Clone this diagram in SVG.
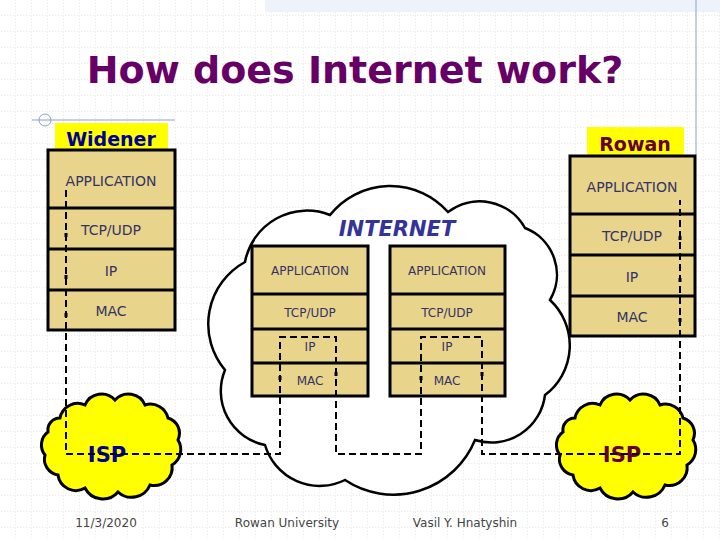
<svg xmlns="http://www.w3.org/2000/svg" width="720" height="540" viewBox="0 0 720 540">
<defs>
<pattern id="grid" width="16" height="16" patternUnits="userSpaceOnUse"><path d="M16 0V16H0" fill="none" stroke="#d4d4d4" stroke-width="1" stroke-dasharray="1,2"/></pattern>
<path id="ispshape" d="M60 418 A18 18 0 0 1 85 405 A18 18 0 0 1 115 400 A18 18 0 0 1 145 405 A18 18 0 0 1 168 418 A16 16 0 0 1 178 440 A18 18 0 0 1 172 465 A18 18 0 0 1 150 485 A20 20 0 0 1 118 492 A20 20 0 0 1 85 488 A18 18 0 0 1 58 475 A16 16 0 0 1 45 455 A16 16 0 0 1 48 432 A12 12 0 0 1 60 418 Z"/>
</defs>
<style>
.box{fill:#e8d48a;stroke:#000;stroke-width:3}
.t{font-family:"DejaVu Sans",sans-serif;fill:#333366;text-anchor:middle}
.dash{fill:none;stroke:#000;stroke-width:2;stroke-dasharray:7,4}
.cl{fill:#fff;stroke:#000;stroke-width:2.5}
.isp{fill:#ffff00;stroke:#000;stroke-width:3}
.ft{font-family:"DejaVu Sans",sans-serif;font-size:12px;fill:#444;text-anchor:middle}
</style>
<rect width="720" height="540" fill="#fff"/>
<rect width="720" height="540" fill="url(#grid)"/>
<rect x="265" y="0" width="455" height="12" fill="#eef2fa"/>
<line x1="696" y1="0" x2="696" y2="155" stroke="#8aa0d0" stroke-width="1"/>
<line x1="32" y1="120" x2="175" y2="120" stroke="#8aa0d0" stroke-width="1"/>
<circle cx="45" cy="120" r="6" fill="none" stroke="#8aa0d0"/>
<text x="355" y="83" font-family="'DejaVu Sans',sans-serif" font-weight="bold" font-size="38" fill="#660066" text-anchor="middle">How does Internet work?</text>

<g id="internet">
<path class="cl" d="M245 262 A63 63 0 0 1 330 215 A77 77 0 0 1 448 212 A52 52 0 0 1 525 228 A50 50 0 0 1 550 300 A62 62 0 0 1 545 395 A54 54 0 0 1 475 440 A88 88 0 0 1 345 480 A57 57 0 0 1 265 445 A55 55 0 0 1 225 370 A71 71 0 0 1 245 262 Z"/>
<text x="397" y="236" font-family="'DejaVu Sans',sans-serif" font-weight="bold" font-style="italic" font-size="21" fill="#333399" text-anchor="middle">INTERNET</text>
</g>

<g id="widener">
<rect x="55" y="123" width="113" height="32" fill="#ffff00"/>
<text x="111" y="146" font-family="'DejaVu Sans',sans-serif" font-weight="bold" font-size="19" fill="#000099" text-anchor="middle">Widener</text>
<rect class="box" x="48" y="150" width="127" height="180"/>
<line x1="48" y1="208" x2="175" y2="208" stroke="#000" stroke-width="3"/>
<line x1="48" y1="249" x2="175" y2="249" stroke="#000" stroke-width="3"/>
<line x1="48" y1="290" x2="175" y2="290" stroke="#000" stroke-width="3"/>
<text class="t" x="111" y="186" font-size="14">APPLICATION</text>
<text class="t" x="111" y="235" font-size="14">TCP/UDP</text>
<text class="t" x="111" y="276" font-size="14">IP</text>
<text class="t" x="111" y="316" font-size="14">MAC</text>
</g>

<g id="rowan">
<rect x="587" y="127" width="97" height="34" fill="#ffff00"/>
<text x="635" y="151" font-family="'DejaVu Sans',sans-serif" font-weight="bold" font-size="19" fill="#660033" text-anchor="middle">Rowan</text>
<rect class="box" x="570" y="156" width="125" height="180"/>
<line x1="570" y1="214" x2="695" y2="214" stroke="#000" stroke-width="3"/>
<line x1="570" y1="255" x2="695" y2="255" stroke="#000" stroke-width="3"/>
<line x1="570" y1="296" x2="695" y2="296" stroke="#000" stroke-width="3"/>
<text class="t" x="632" y="192" font-size="14">APPLICATION</text>
<text class="t" x="632" y="241" font-size="14">TCP/UDP</text>
<text class="t" x="632" y="282" font-size="14">IP</text>
<text class="t" x="632" y="322" font-size="14">MAC</text>
</g>

<g id="router1">
<rect class="box" x="252" y="246" width="116" height="150"/>
<line x1="252" y1="294" x2="368" y2="294" stroke="#000" stroke-width="3"/>
<line x1="252" y1="329" x2="368" y2="329" stroke="#000" stroke-width="3"/>
<line x1="252" y1="363" x2="368" y2="363" stroke="#000" stroke-width="3"/>
<text class="t" x="310" y="275" font-size="12">APPLICATION</text>
<text class="t" x="310" y="317" font-size="12">TCP/UDP</text>
<text class="t" x="310" y="351" font-size="12">IP</text>
<text class="t" x="310" y="385" font-size="12">MAC</text>
</g>

<g id="router2">
<rect class="box" x="390" y="246" width="115" height="150"/>
<line x1="390" y1="294" x2="505" y2="294" stroke="#000" stroke-width="3"/>
<line x1="390" y1="329" x2="505" y2="329" stroke="#000" stroke-width="3"/>
<line x1="390" y1="363" x2="505" y2="363" stroke="#000" stroke-width="3"/>
<text class="t" x="447" y="275" font-size="12">APPLICATION</text>
<text class="t" x="447" y="317" font-size="12">TCP/UDP</text>
<text class="t" x="447" y="351" font-size="12">IP</text>
<text class="t" x="447" y="385" font-size="12">MAC</text>
</g>

<g id="isp-left">
<use href="#ispshape" class="isp"/>
<text x="107" y="462" font-family="'DejaVu Sans',sans-serif" font-weight="bold" font-size="21" fill="#000099" text-anchor="middle">ISP</text>
</g>
<g id="isp-right">
<use href="#ispshape" class="isp" transform="translate(515,0)"/>
<text x="622" y="462" font-family="'DejaVu Sans',sans-serif" font-weight="bold" font-size="21" fill="#660033" text-anchor="middle">ISP</text>
</g>

<g id="connectors">
<path class="dash" d="M66 190V454H280V337H336V454H421V337H482V454H680V200"/>
<path d="M66 233V237M66 275V279M66 313V317" stroke="#000" stroke-width="3"/>
<path d="M680 240V236M680 282V278M680 322V318" stroke="#000" stroke-width="3"/>
<path d="M280 380V376M336 372V376M421 380V376M482 372V376" stroke="#000" stroke-width="3"/>
</g>

<text class="ft" x="106" y="527">11/3/2020</text>
<text class="ft" x="287" y="527">Rowan University</text>
<text class="ft" x="465" y="527">Vasil Y. Hnatyshin</text>
<text class="ft" x="665" y="527">6</text>
</svg>
